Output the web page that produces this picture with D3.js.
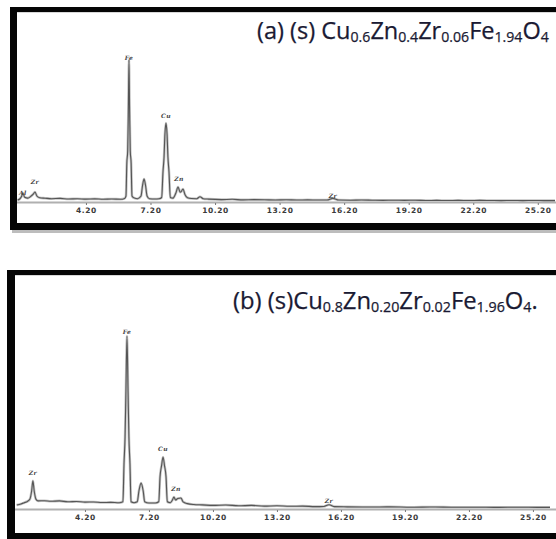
<!DOCTYPE html>
<html><head><meta charset="utf-8">
<script src="https://cdn.jsdelivr.net/npm/d3@7"></script>
<style>body{margin:0;background:#fff}svg{display:block}</style></head>
<body><svg id="c" width="556" height="539"></svg>
<script>
// ---------- data ----------
const tickValues = [4.2, 7.2, 10.2, 13.2, 16.2, 19.2, 22.2, 25.2];

// (a) spectrum: energy (keV) and intensity (arbitrary units)
const energyA = [1.02,1.12,1.2,1.27,1.35,1.5,1.62,1.75,1.83,1.92,2.05,2.3,2.6,3.0,3.4,3.8,4.2,4.6,5.0,5.4,5.8,6.0,
  6.06,6.1,6.14,6.17,6.2,6.23,6.26,6.3,6.34,6.45,6.6,6.76,6.83,6.9,6.97,7.04,7.15,7.4,7.6,
  7.72,7.78,7.83,7.87,7.92,7.97,8.01,8.06,8.12,8.25,8.38,8.48,8.58,8.63,8.71,8.8,8.92,9.1,9.35,9.5,9.65,9.9,
  10.5,11.0,11.5,12.0,12.5,13.0,13.5,14.0,14.5,15.0,15.4,15.68,15.95,16.5,17.0,17.5,18.0,18.5,19.0,19.5,20.0,20.5,21.0,21.5,22.0,22.5,23.0,23.5,24.0,24.5,25.0,25.5,26.0];
const countsA = [1.3,2.0,3.5,6.0,3.2,2.6,3.6,5.2,6.7,4.0,2.8,2.5,2.2,2.4,2.0,2.2,1.9,2.1,1.8,2.0,1.8,2.4,
  4,26,34,60,94.7,60,34,26,4,2.6,2.2,4,11,15.3,11,4,2.2,2.0,2.2,
  3,20,30,45,52.7,45,30,20,3,2.6,6,10,6.5,7,8.7,5,2.8,2.3,2.2,3.5,2.2,1.9,
  1.6,1.8,1.4,1.6,1.5,1.3,1.5,1.3,1.4,1.3,1.3,2.4,1.3,1.2,1.3,1.2,1.1,1.2,1.1,1.2,1.0,1.1,1.0,1.1,1.0,1.1,1.0,0.9,1.0,0.9,1.0,0.9,0.9];
const peakNamesA = ["Al", "Zr", "Fe", "Cu", "Zn", "Zr"];
const peakEnergyA = [1.27, 1.83, 6.2, 7.92, 8.52, 15.68];
const peakLabelA = [6, 12.7, 96, 57.3, 14.7, 4];
const titleA = ["(a) (s) Cu", "0.6", "Zn", "0.4", "Zr", "0.06", "Fe", "1.94", "O", "4"];

// (b) spectrum
const energyB = [1.0,1.2,1.35,1.5,1.62,1.7,1.76,1.82,1.9,2.0,2.3,2.6,3.0,3.4,3.8,4.2,4.6,5.0,5.4,5.8,5.98,
  6.03,6.08,6.12,6.17,6.22,6.26,6.31,6.36,6.5,6.65,6.73,6.83,6.93,7.0,7.2,7.5,
  7.66,7.72,7.79,7.86,7.93,8.0,8.06,8.2,8.3,8.37,8.45,8.55,8.7,8.8,9.0,9.3,9.7,
  10.2,10.8,11.4,12.0,12.6,13.2,13.8,14.4,15.0,15.4,15.64,15.9,16.5,17.5,18.5,19.5,20.5,21.5,22.5,23.5,24.5,25.5,26.0];
const countsB = [2.2,2.8,3.5,4.2,5.5,10,15.6,10,5.5,4.5,4.6,4.3,4.5,4.0,4.2,3.8,3.9,3.6,3.7,3.5,4,
  25,40,65,96.1,65,40,25,4,3.5,4,10,14.4,10,4,3.3,3.3,
  4,18,24,28.9,24,18,4,3.5,5,6.7,5,5.8,6.1,4,3,2.5,2.3,
  2.0,2.2,1.8,2.0,1.6,1.8,1.5,1.6,1.3,1.4,2.4,1.3,1.2,1.1,1.2,1.0,1.1,1.0,1.0,0.9,1.0,0.9,0.9];
const peakNamesB = ["Zr", "Fe", "Cu", "Zn", "Zr"];
const peakEnergyB = [1.76, 6.17, 7.86, 8.47, 15.64];
const peakLabelB = [20, 98.3, 33.3, 10.6, 4.4];
const titleB = ["(b) (s)Cu", "0.8", "Zn", "0.20", "Zr", "0.02", "Fe", "1.96", "O", "4", "."];

// ---------- layout ----------
const panels = [
  {E: energyA, C: countsA, names: peakNamesA, pe: peakEnergyA, pl: peakLabelA, title: titleA,
   frame: {x: 10, top: 7, bottom: 230, tb: 5, lb: 7, bb: 7},
   xr: [17.1, 555], axisY: 202, yTop: 52, titleX: 257, titleY: 39, titleW: 292},
  {E: energyB, C: countsB, names: peakNamesB, pe: peakEnergyB, pl: peakLabelB, title: titleB,
   frame: {x: 7, top: 270, bottom: 539, tb: 5, lb: 8, bb: 6},
   xr: [16.7, 550], axisY: 509, yTop: 329, titleX: 233, titleY: 309, titleW: 305}
];

const svg = d3.select("#c");

panels.forEach((p, i) => {
  const g = svg.append("g");
  const f = p.frame;
  // frame shadow + border
  g.append("rect").attr("x", f.x + 2).attr("y", f.bottom).attr("width", 556).attr("height", 3).attr("fill", "#bdbdbd");
  g.append("rect").attr("x", f.x).attr("y", f.top).attr("width", 560).attr("height", f.tb).attr("fill", "#050505");
  g.append("rect").attr("x", f.x).attr("y", f.top).attr("width", f.lb).attr("height", f.bottom - f.top).attr("fill", "#050505");
  g.append("rect").attr("x", f.x).attr("y", f.bottom - f.bb).attr("width", 560).attr("height", f.bb).attr("fill", "#050505");
  g.append("rect").attr("x", f.x + f.lb).attr("y", f.top + f.tb).attr("width", 560).attr("height", 1).attr("fill", "#d8d8d8");

  const x = d3.scaleLinear().domain([1.0, 26.0]).range(p.xr);
  const y = d3.scaleLinear().domain([0, 100]).range([p.axisY, p.yTop]);

  // axis baseline
  g.append("line").attr("x1", f.x + f.lb).attr("x2", 556).attr("y1", p.axisY + 0.5).attr("y2", p.axisY + 0.5)
    .attr("stroke", "#b0b0b0").attr("stroke-width", 2);

  const ax = g.append("g").attr("transform", `translate(0,${p.axisY + 1})`)
    .call(d3.axisBottom(x).tickValues(tickValues).tickFormat(d3.format(".2f")).tickSize(2).tickSizeOuter(0).tickPadding(2.5));
  ax.select(".domain").remove();
  ax.selectAll(".tick line").attr("stroke", "#777").attr("stroke-width", 1);
  ax.selectAll(".tick text").attr("font-family", "DejaVu Sans").attr("font-weight", "bold")
    .attr("font-size", 7.5).attr("letter-spacing", 0.6).attr("fill", "#3a3a3a");

  // spectrum
  const pts = p.E.map((e, k) => [e, p.C[k]]);
  const line = d3.line().x(d => x(d[0])).y(d => y(d[1])).curve(d3.curveMonotoneX);
  g.append("path").datum(pts).attr("d", line).attr("fill", "none")
    .attr("stroke", "#c4c4c4").attr("stroke-width", 2.6).attr("stroke-linejoin", "round");
  g.append("path").datum(pts).attr("d", line).attr("fill", "none")
    .attr("stroke", "#555").attr("stroke-width", 1.1).attr("stroke-linejoin", "round");

  // peak labels
  g.selectAll("text.pk").data(p.names).enter().append("text").attr("class", "pk")
    .attr("x", (d, k) => x(p.pe[k])).attr("y", (d, k) => y(p.pl[k]))
    .attr("text-anchor", "middle").attr("dominant-baseline", "middle")
    .attr("font-family", "DejaVu Serif").attr("font-style", "italic").attr("font-weight", "bold")
    .attr("font-size", 6).attr("letter-spacing", 0.4).attr("fill", "#444").text(d => d);

  // title
  const t = g.append("text").attr("x", p.titleX).attr("y", p.titleY)
    .attr("font-family", "Open Sans").attr("font-size", 16).attr("fill", "#1a1a33")
    .attr("stroke", "#1a1a33").attr("stroke-width", 0.25);
  p.title.forEach((s, k) => {
    const sub = k % 2 === 1;
    t.append("tspan").text(s)
      .attr("font-size", sub ? "0.6em" : null)
      .attr("dy", sub ? 3 : (k === 0 ? 0 : -3));
  });
  const w = t.node().getComputedTextLength();
  t.attr("font-size", 16 * p.titleW / w);
});
</script></body></html>
